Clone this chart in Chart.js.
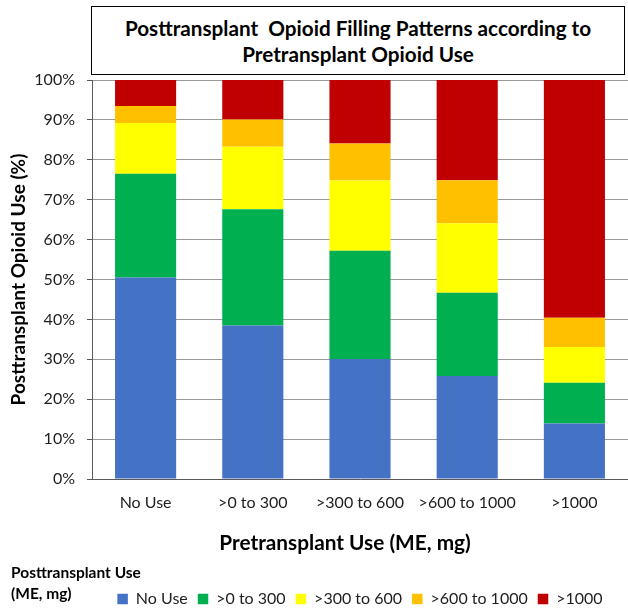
<!DOCTYPE html>
<html>
<head>
<meta charset="utf-8">
<script src="https://cdn.jsdelivr.net/npm/chart.js@4/dist/chart.umd.min.js"></script>
<style>
  html, body { margin: 0; padding: 0; background: #fff; overflow: hidden; }
  #wrap { position: relative; width: 628px; height: 612px; }
  #c { position: absolute; left: 0; top: 0; }
  .ov { position: absolute; font-family: Lato, "Open Sans", sans-serif; color: #000; font-weight: 700; }
  #titleBox { left: 91px; top: 6px; width: 532px; height: 66px; border: 1.5px solid #000; background: #fff;
    display: flex; flex-direction: column; justify-content: center; align-items: center; font-size: 20.7px; line-height: 26px; text-align: center; white-space: pre; padding-top: 1px; box-sizing: content-box; }
  #xTitle { left: 0; width: 690px; top: 530px; text-align: center; font-size: 20.8px; line-height: 24px; white-space: nowrap; }
  #legHead { left: 11px; top: 562px; font-size: 15.5px; line-height: 21px; white-space: nowrap; }
</style>
</head>
<body>
<div id="wrap">
  <canvas id="c" width="628" height="612"></canvas>
  <div id="titleBox" class="ov"><div>Posttransplant  Opioid Filling Patterns according to</div><div>Pretransplant Opioid Use</div></div>
  <div id="xTitle" class="ov">Pretransplant Use (ME, mg)</div>
  <div id="legHead" class="ov">Posttransplant Use<br>(ME, mg)</div>
</div>
<script>
// Categories (pretransplant use)
const categories = ["No Use", ">0 to 300", ">300 to 600", ">600 to 1000", ">1000"];
// Series: posttransplant use share (%) per pretransplant category
const seriesNames = ["No Use", ">0 to 300", ">300 to 600", ">600 to 1000", ">1000"];
const noUse      = [50.5, 38.5, 30.1, 25.8, 13.9];
const to300      = [26.0, 29.1, 27.1, 20.9, 10.2];
const to600      = [12.7, 15.7, 17.6, 17.4,  9.0];
const to1000     = [ 4.3,  6.8,  9.3, 10.8,  7.3];
const over1000   = [ 6.5,  9.9, 15.9, 25.1, 59.6];
const yTicks = [0, 10, 20, 30, 40, 50, 60, 70, 80, 90, 100];

const colors = ["#4472C4", "#00B050", "#FFFF00", "#FFC000", "#C00000"];
const seriesData = [noUse, to300, to600, to1000, over1000];

const FONT = "Lato, 'Open Sans', sans-serif";
const TXT = "#1e1e1e";

new Chart(document.getElementById("c"), {
  type: "bar",
  data: {
    labels: categories,
    datasets: seriesNames.map((n, i) => ({
      label: n,
      data: seriesData[i],
      backgroundColor: colors[i],
      borderWidth: 0,
      categoryPercentage: 1,
      barPercentage: 0.57
    }))
  },
  options: {
    responsive: false,
    animation: false,
    devicePixelRatio: 1,
    layout: { padding: { top: 80, left: 0, right: 0, bottom: -5 } },
    plugins: {
      title: { display: false },
      tooltip: { enabled: false },
      legend: {
        position: "bottom",
        fullSize: false,
        labels: {
          boxWidth: 10.5, boxHeight: 10.5, padding: 10,
          color: TXT, font: { family: FONT, size: 16 }
        }
      }
    },
    scales: {
      x: {
        stacked: true,
        grid: { display: false, drawTicks: false },
        border: { display: true, color: "#595959", width: 1 },
        ticks: { color: TXT, font: { family: FONT, size: 16 }, padding: 14, maxRotation: 0 },
        afterFit: (s) => { s.height = 102; }
      },
      y: {
        stacked: true,
        min: 0, max: 100,
        afterBuildTicks: (s) => { s.ticks = yTicks.map(v => ({ value: v })); },
        ticks: { color: TXT, font: { family: FONT, size: 16 }, padding: 12, callback: (v) => v + "%" },
        grid: { color: "#9a9a9a", lineWidth: 1, tickLength: 5, tickColor: "#595959" },
        border: { display: true, color: "#595959", width: 1 },
        title: {
          display: true, text: "Posttransplant Opioid Use (%)", color: "#000",
          font: { family: FONT, size: 19, weight: "bold" }, padding: { top: 7, bottom: 0 }
        },
        afterFit: (s) => { s.width = 92; }
      }
    }
  }
});
</script>
</body>
</html>
